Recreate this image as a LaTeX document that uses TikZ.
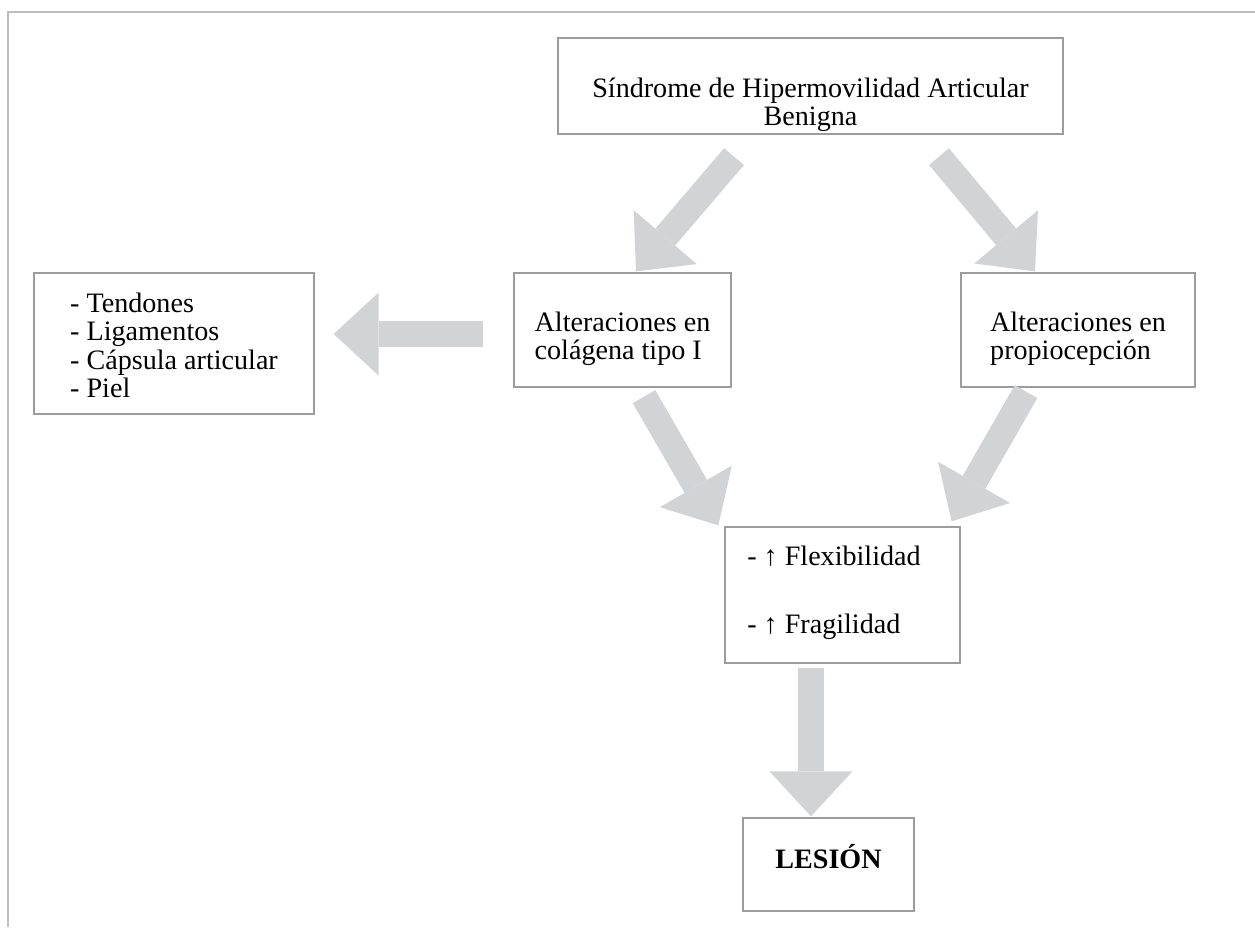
\documentclass[tikz,border=0pt]{standalone}
\usepackage{fontspec}
\setmainfont{Liberation Serif}
\usepackage{tikz}
\usetikzlibrary{arrows.meta, positioning}
\usetikzlibrary{calc}

\definecolor{grisflecha}{HTML}{D1D3D4}
\definecolor{grisborde}{HTML}{9C9C9C}
\definecolor{grismarco}{HTML}{BDBDBD}

\tikzset{
  caja/.style={draw=grisborde, line width=0.75pt, rectangle, inner sep=0pt,
    font=\fontsize{16}{16.3}\selectfont},
  flecha/.style={draw=grisflecha, line width=0.52cm,
    -{Triangle[length=0.9cm, width=1.66cm, line width=0pt]}},
  marco/.style={draw=grismarco, line width=1.1pt}
}

\begin{document}
\begin{tikzpicture}[x=0.02cm, y=-0.02cm]
            \useasboundingbox (0,0) rectangle (1255,927);
            \draw[marco] (8,927) -- (8,12) -- (1255,12);
            % cajas
            \node[caja, minimum width=10.1cm, minimum height=1.92cm, align=center,
                  text height=1.6cm, text depth=0pt] (sindrome) at (810.5,86)
                  {Síndrome de Hipermovilidad Articular\\Benigna};
            \node[caja, minimum width=5.6cm, minimum height=2.82cm, align=left,
                  text height=2.18cm, text depth=0pt] (tejidos) at (174,343.5)
                  {- Tendones\\- Ligamentos\\- Cápsula articular\\- Piel};
            \node[caja, minimum width=4.34cm, minimum height=2.28cm, align=left,
                  font=\fontsize{16}{15.4}\selectfont,
                  text height=1.16cm, text depth=0pt] (colagena) at (622.5,330)
                  {Alteraciones en\\colágena tipo I};
            \node[caja, minimum width=4.68cm, minimum height=2.28cm, align=left,
                  font=\fontsize{16}{15.4}\selectfont,
                  text height=1.16cm, text depth=0pt] (propio) at (1078,330)
                  {Alteraciones en\\propiocepción};
            \node[caja, minimum width=4.7cm, minimum height=2.72cm, align=left,
                  text height=1.52cm, text depth=0pt] (flex) at (842.5,595)
                  {- ↑ Flexibilidad\hspace*{0.34cm}\\[22.4pt]- ↑ Fragilidad};
            \node[caja, minimum width=3.42cm, minimum height=1.86cm,
                  text height=0.14cm, text depth=0pt] (lesion) at (828.5,864.5)
                  {\textbf{LESIÓN}};
            % flechas
            \draw[flecha] ([shift={(-76.5,22)}]sindrome.south) -- ([shift={(13.5,-1)}]colagena.north);
            \draw[flecha] ([shift={(128.5,22)}]sindrome.south) -- ([shift={(-43,-1)}]propio.north);
            \draw[flecha] ([shift={(-30,4)}]colagena.west) -- ([shift={(19,-9.5)}]tejidos.east);
            \draw[flecha] ([shift={(21.5,9)}]colagena.south) -- ([shift={(-6,-1)}]flex.north west);
            \draw[flecha] ([shift={(-52,4)}]propio.south) -- ([shift={(-9,-5)}]flex.north east);
            \draw[flecha] ([shift={(-31.5,4)}]flex.south) -- ([shift={(-17.5,-1)}]lesion.north);
        \end{tikzpicture}
\end{document}
